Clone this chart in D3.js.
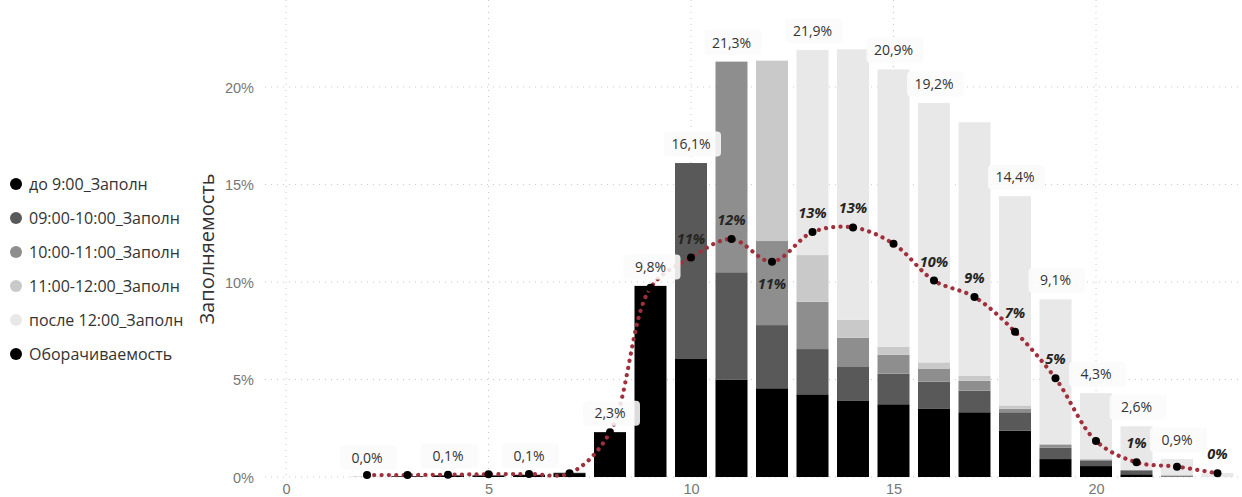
<!DOCTYPE html>
<html><head><meta charset="utf-8">
<script src="https://cdn.jsdelivr.net/npm/d3@7/dist/d3.min.js"></script>
<style>
body{margin:0;background:#fff;}
svg{display:block;font-family:"Segoe UI","Open Sans","Noto Sans",sans-serif;}
</style></head><body>
<svg id="c" width="1242" height="497"></svg>
<script>
// ---- data ----
const categories = [2,3,4,5,6,7,8,9,10,11,12,13,14,15,16,17,18,19,20,21,22,23];
const seriesNames = ["до 9:00_Заполн","09:00-10:00_Заполн","10:00-11:00_Заполн","11:00-12:00_Заполн","после 12:00_Заполн"];
const lineName = "Оборачиваемость";
const before9   = [0.00,0.04,0.08,0.08,0.10,0.20,2.30,9.80,6.05,5.00,4.55,4.24,3.90,3.73,3.49,3.32,2.38,0.92,0.56,0.14,0.02,0.00];
const h09_10    = [0.00,0.01,0.02,0.02,0.02,0.02,0.00,0.00,10.05,5.50,3.24,2.32,1.74,1.57,1.40,1.11,0.94,0.58,0.29,0.17,0.02,0.00];
const h10_11    = [0.01,0.00,0.00,0.00,0.00,0.00,0.00,0.00,0.00,10.80,4.31,2.43,1.50,0.96,0.65,0.51,0.18,0.14,0.05,0.05,0.04,0.00];
const h11_12    = [0.01,0.00,0.00,0.00,0.00,0.00,0.00,0.00,0.00,0.00,9.25,2.39,0.93,0.41,0.34,0.26,0.17,0.06,0.02,0.02,0.02,0.00];
const after12   = [0.00,0.00,0.00,0.00,0.00,0.00,0.00,0.00,0.00,0.00,0.00,10.52,13.86,14.23,13.30,12.99,10.73,7.41,3.38,2.22,0.82,0.20];
const turnover  = [0.10,0.10,0.12,0.14,0.16,0.19,2.29,9.70,11.25,12.20,11.04,12.56,12.80,11.96,10.07,9.23,7.45,5.06,1.85,0.75,0.53,0.19];
const totalLabelCats = [2,4,6,8,9,10,11,13,15,16,18,19,20,21,22];
const lineLabelCats  = [10,11,12,13,14,16,17,18,19,21,23];
const lineLabelBelowCats = [12];
const yTicks = [0,5,10,15,20];
const xTicks = [0,5,10,15,20];
const colors = ["#000000","#595959","#8e8e8e","#c9c9c9","#e8e8e8"];
const lineColor = "#a0303c";

// ---- scales ----
const svg = d3.select("#c");
const x = d3.scaleLinear().domain([-0.5, 23.6]).range([265.75, 1241.8]);
const y = d3.scaleLinear().domain([0, 24.46]).range([477, 0]);
const bw = 32;

// gridlines
const grid = svg.append("g");
grid.selectAll("line.h").data(yTicks).join("line")
  .attr("x1", 265).attr("x2", 1242).attr("y1", d=>y(d)).attr("y2", d=>y(d))
  .attr("stroke", "#c8c8c8").attr("stroke-dasharray", "1,5").attr("stroke-width",1);
grid.selectAll("line.v").data(xTicks).join("line")
  .attr("x1", d=>x(d)).attr("x2", d=>x(d)).attr("y1", 0).attr("y2", y(0))
  .attr("stroke", "#c8c8c8").attr("stroke-dasharray", "1,5").attr("stroke-width",1);

// axes
const yAxis = d3.axisLeft(y).tickValues(yTicks).tickFormat(d=>d+"%").tickSize(0).tickPadding(0);
const gy = svg.append("g").attr("transform","translate(254,0)").call(yAxis);
gy.select(".domain").remove();
gy.selectAll("text").attr("fill","#777").style("font-size","14.5px").attr("dy","0.35em");
const xAxis = d3.axisBottom(x).tickValues(xTicks).tickFormat(d3.format("d")).tickSize(0).tickPadding(0);
const gx = svg.append("g").attr("transform","translate(0,484)").call(xAxis);
gx.select(".domain").remove();
gx.selectAll("text").attr("fill","#777").style("font-size","14.5px").attr("dy","0.71em");

// stacked bars
const seriesArr = [before9,h09_10,h10_11,h11_12,after12];
const rows = categories.map((c,i)=>{ const o={cat:c}; seriesArr.forEach((s,k)=>o["s"+k]=s[i]); return o; });
const stack = d3.stack().keys(seriesArr.map((_,k)=>"s"+k))(rows);
svg.append("g").selectAll("g").data(stack).join("g").attr("fill",(d,k)=>colors[k])
  .selectAll("rect").data(d=>d).join("rect")
  .attr("x", d=>x(d.data.cat)-bw/2).attr("width", bw)
  .attr("y", d=>y(d[1])).attr("height", d=>Math.max(0, y(d[0])-y(d[1])));

// line
const pts = categories.map((c,i)=>({cat:c, v:turnover[i]}));
const line = d3.line().x(d=>x(d.cat)).y(d=>y(d.v)).curve(d3.curveCatmullRom.alpha(0.5));
svg.append("path").datum(pts).attr("d", line).attr("fill","none")
  .attr("stroke", lineColor).attr("stroke-width",4.2).attr("stroke-linecap","round")
  .attr("stroke-dasharray","0.1,7.2");
svg.append("g").selectAll("circle").data(pts).join("circle")
  .attr("cx", d=>x(d.cat)).attr("cy", d=>y(d.v)).attr("r",4).attr("fill","#000");

// line labels
svg.append("g").selectAll("text").data(pts.filter(d=>lineLabelCats.includes(d.cat))).join("text")
  .attr("x", d=>x(d.cat)).attr("y", d=> lineLabelBelowCats.includes(d.cat) ? y(d.v)+22 : y(d.v)-19)
  .attr("text-anchor","middle").attr("dy","0.35em")
  .style("font-size","14.5px").style("font-weight","bold").style("font-style","italic")
  .attr("fill","#252423").text(d=>Math.round(d.v)+"%");

// total labels
const totals = categories.map((c,i)=>({cat:c, t:d3.sum(seriesArr, s=>s[i])}));
const fmt = v => v.toFixed(1).replace(".",",")+"%";
const tl = svg.append("g").selectAll("g").data(totals.filter(d=>totalLabelCats.includes(d.cat))).join("g")
  .attr("transform", d=>`translate(${x(d.cat)},${y(d.t)-19})`);
tl.append("rect").attr("x",-27).attr("y",-12.5).attr("width",57).attr("height",25).attr("rx",4)
  .attr("fill","#fafafa").attr("fill-opacity",0.88);
tl.append("text").attr("text-anchor","middle").attr("dy","0.35em")
  .style("font-size","14px").attr("fill","#333").text(d=>fmt(d.t));

// y title
svg.append("text").attr("transform","translate(207,249) rotate(-90)").attr("text-anchor","middle")
  .attr("dy","0.35em").style("font-size","20px").attr("fill","#333").text("Заполняемость");

// legend
const legItems = seriesNames.map((n,k)=>({n, c:colors[k]})).concat([{n:lineName, c:"#000"}]);
const lg = svg.append("g").selectAll("g").data(legItems).join("g")
  .attr("transform",(d,i)=>`translate(16,${184+i*34})`);
lg.append("circle").attr("r",6).attr("fill",d=>d.c);
lg.append("text").attr("x",13).attr("dy","0.35em").style("font-size","16px").attr("fill","#333").text(d=>d.n);
</script>
</body></html>
